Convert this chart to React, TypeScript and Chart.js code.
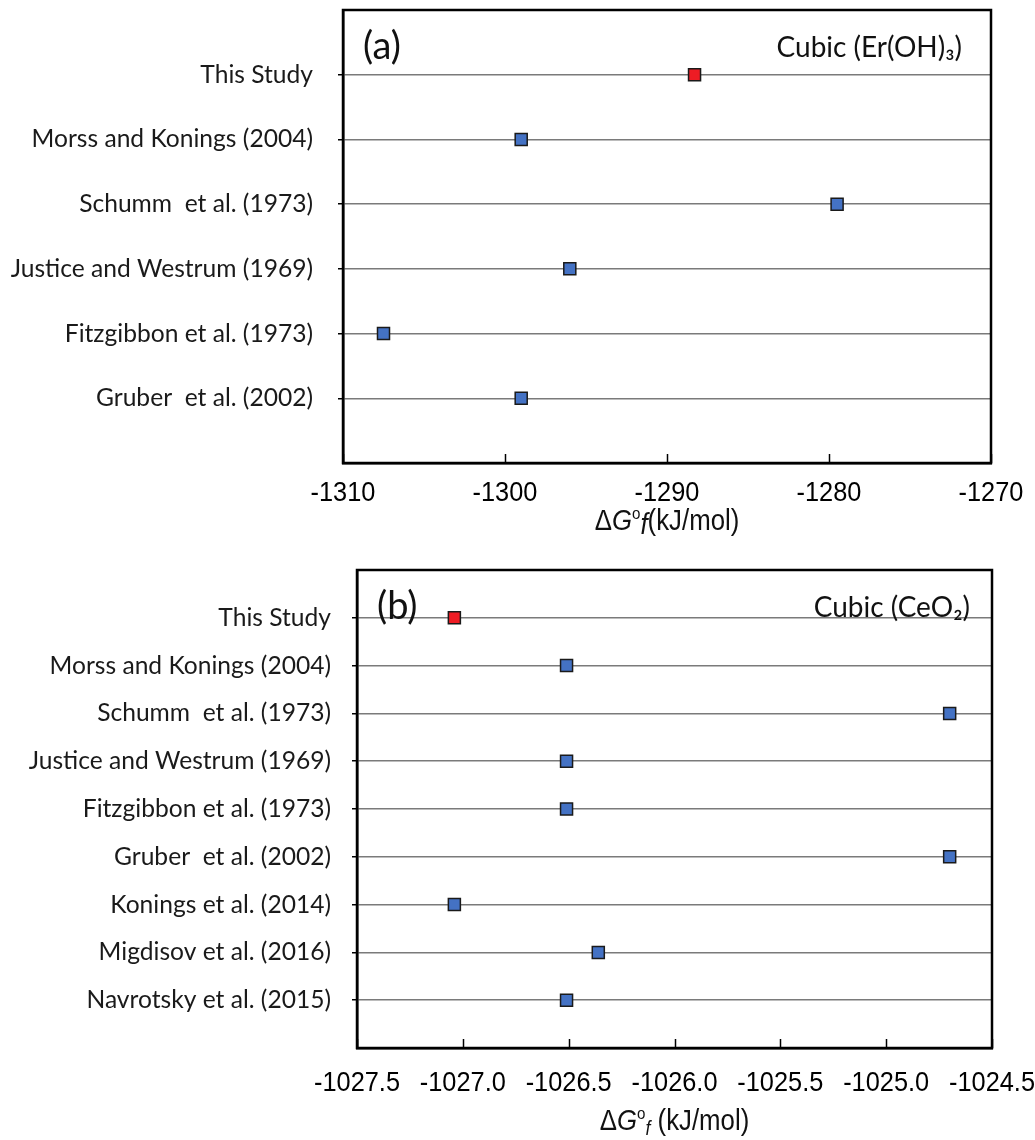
import React, { useEffect, useRef } from 'react';
import { Chart, registerables } from 'chart.js';

Chart.register(...registerables);

// ---------- Data ----------
const categoriesA = [
  'This Study',
  'Morss and Konings (2004)',
  'Schumm  et al. (1973)',
  'Justice and Westrum (1969)',
  'Fitzgibbon et al. (1973)',
  'Gruber  et al. (2002)',
];
const valuesA = [-1288.3, -1299.0, -1279.5, -1296.0, -1307.5, -1299.0];
const xTicksA = [-1310, -1300, -1290, -1280, -1270];

const categoriesB = [
  'This Study',
  'Morss and Konings (2004)',
  'Schumm  et al. (1973)',
  'Justice and Westrum (1969)',
  'Fitzgibbon et al. (1973)',
  'Gruber  et al. (2002)',
  'Konings et al. (2014)',
  'Migdisov et al. (2016)',
  'Navrotsky et al. (2015)',
];
const valuesB = [-1027.04, -1026.51, -1024.7, -1026.51, -1026.51, -1024.7, -1027.04, -1026.36, -1026.51];
const xTicksB = [-1027.5, -1027.0, -1026.5, -1026.0, -1025.5, -1025.0, -1024.5];

const LABEL_FONT = 'Lato, "Open Sans", sans-serif';
const NARROW_FONT = '"Liberation Sans", Arial, sans-serif';
const NARROW_SCALE = 0.89;
const RED = '#ee1c24';
const BLUE = '#4472c4';

type PanelProps = {
  categories: string[];
  values: number[];
  xTicks: number[];
  decimals: number;
  tag: string;
  compound: string;
  compoundRight: number;
  top: number;
  height: number;
  yWidth: number;
  padTop: number;
  padRight: number;
  xHeight: number;
  tickLabelY: number;
  yPad: number;
  titleOffset: number;
  subF: boolean;
  spaceBeforeUnit: boolean;
};

// draws horizontally condensed text (emulates a narrow face); returns drawn width
function drawNarrow(ctx: CanvasRenderingContext2D, text: string, x: number, y: number, font: string, align: 'left' | 'center') {
  ctx.save();
  ctx.font = font;
  const w = ctx.measureText(text).width * NARROW_SCALE;
  const left = align === 'center' ? x - w / 2 : x;
  ctx.translate(left, y);
  ctx.scale(NARROW_SCALE, 1);
  ctx.textAlign = 'left';
  ctx.fillText(text, 0, 0);
  ctx.restore();
  return w;
}

function Panel(p: PanelProps) {
  const ref = useRef<HTMLCanvasElement | null>(null);
  useEffect(() => {
    if (!ref.current) return;
    const n = p.categories.length;
    const decorPlugin = {
      id: 'decor',
      afterDraw(chart: any) {
        const ctx = chart.ctx as CanvasRenderingContext2D;
        const a = chart.chartArea;
        const xs = chart.scales.x;
        ctx.save();
        // inward x ticks + tick labels
        ctx.strokeStyle = '#000';
        ctx.lineWidth = 1.5;
        ctx.fillStyle = '#000';
        ctx.textBaseline = 'middle';
        for (const t of xs.ticks) {
          const px = xs.getPixelForValue(t.value);
          const sx = Math.round(px) + 0.5;
          ctx.beginPath();
          ctx.moveTo(sx, a.bottom);
          ctx.lineTo(sx, a.bottom - 9);
          ctx.stroke();
          drawNarrow(ctx, Number(t.value).toFixed(p.decimals), px, a.bottom + p.tickLabelY, `28.5px ${NARROW_FONT}`, 'center');
        }
        // frame
        ctx.lineWidth = 2.5;
        ctx.strokeStyle = '#000';
        ctx.strokeRect(a.left, a.top, a.right - a.left, a.bottom - a.top);
        // panel tag
        ctx.fillStyle = '#111';
        ctx.textBaseline = 'alphabetic';
        ctx.textAlign = 'left';
        ctx.font = `38px ${LABEL_FONT}`;
        ctx.fillText(p.tag, a.left + 20, a.top + 49);
        ctx.textAlign = 'right';
        ctx.font = `28px ${LABEL_FONT}`;
        ctx.fillText(p.compound, a.right - p.compoundRight, a.top + 47);
        // axis title
        const cx = (a.left + a.right) / 2;
        const by = a.bottom + p.titleOffset;
        const parts: { t: string; f: string; dy: number }[] = [
          { t: '\u0394', f: `29px ${NARROW_FONT}`, dy: 0 },
          { t: 'G', f: `italic 29px ${NARROW_FONT}`, dy: 0 },
          { t: 'o', f: `17px ${NARROW_FONT}`, dy: -11 },
          p.subF
            ? { t: 'f', f: `italic 20px ${NARROW_FONT}`, dy: 5 }
            : { t: 'f', f: `italic 29px ${NARROW_FONT}`, dy: 4 },
          { t: (p.spaceBeforeUnit ? ' ' : '') + '(kJ/mol)', f: `29px ${NARROW_FONT}`, dy: 0 },
        ];
        let total = 0;
        for (const q of parts) {
          ctx.font = q.f;
          total += ctx.measureText(q.t).width * NARROW_SCALE;
        }
        let x = cx - total / 2;
        for (const q of parts) {
          x += drawNarrow(ctx, q.t, x, by + q.dy, q.f, 'left');
        }
        ctx.restore();
      },
    };

    const chart = new Chart(ref.current, {
      type: 'scatter',
      data: {
        datasets: [
          {
            data: p.values.map((v, i) => ({ x: v, y: i + 1 })),
            pointStyle: 'rect',
            pointRadius: 8.5,
            pointHoverRadius: 8.5,
            backgroundColor: p.values.map((_, i) => (i === 0 ? RED : BLUE)),
            borderColor: '#1a1a1a',
            borderWidth: 1.5,
            showLine: false,
          },
        ],
      },
      options: {
        animation: false,
        responsive: false,
        events: [],
        layout: { padding: { top: p.padTop, right: p.padRight, left: 0, bottom: 0 } },
        plugins: { legend: { display: false }, tooltip: { enabled: false } },
        scales: {
          x: {
            type: 'linear',
            min: p.xTicks[0],
            max: p.xTicks[p.xTicks.length - 1],
            afterBuildTicks: (s: any) => {
              s.ticks = p.xTicks.map((v) => ({ value: v }));
            },
            afterFit: (s: any) => {
              s.height = p.xHeight;
              s.paddingLeft = 0;
              s.paddingRight = 0;
              s.paddingTop = 0;
              s.paddingBottom = 0;
            },
            ticks: { display: false },
            grid: { display: false, drawTicks: false },
            border: { display: true, color: '#000', width: 2.5 },
          },
          y: {
            type: 'linear',
            min: 0,
            max: n + 1,
            reverse: true,
            afterBuildTicks: (s: any) => {
              s.ticks = Array.from({ length: n + 2 }, (_, i) => ({ value: i }));
            },
            afterFit: (s: any) => {
              s.width = p.yWidth;
              s.paddingLeft = 0;
              s.paddingRight = 0;
              s.paddingTop = 0;
              s.paddingBottom = 0;
            },
            ticks: {
              autoSkip: false,
              color: '#1a1a1a',
              padding: p.yPad,
              font: { family: LABEL_FONT, size: 24.6 },
              callback: (v: any) => p.categories[Number(v) - 1] ?? '',
            },
            grid: {
              color: '#7a7a7a',
              lineWidth: 1.5,
              tickLength: 5,
              tickWidth: 1.5,
              tickColor: (c: any) =>
                c.tick && (c.tick.value === 0 || c.tick.value === n + 1) ? 'rgba(0,0,0,0)' : '#000',
            },
            border: { display: true, color: '#000', width: 2.5 },
          },
        },
      },
      plugins: [decorPlugin],
    } as any);
    return () => chart.destroy();
  }, []);
  return (
    <canvas
      ref={ref}
      width={1035}
      height={p.height}
      style={{ position: 'absolute', left: 0, top: p.top, width: 1035, height: p.height, display: 'block' }}
    />
  );
}

export default function App() {
  return (
    <div style={{ position: 'absolute', left: 0, top: 0, width: 1035, height: 1140, background: '#fff' }}>
      <Panel
        categories={categoriesA}
        values={valuesA}
        xTicks={xTicksA}
        decimals={0}
        tag="(a)"
        compound={'Cubic (Er(OH)\u2083)'}
        compoundRight={29}
        top={0}
        height={545}
        yWidth={343}
        padTop={8}
        padRight={44}
        xHeight={82}
        tickLabelY={30}
        yPad={25}
        titleOffset={67}
        subF={false}
        spaceBeforeUnit={false}
      />
      <Panel
        categories={categoriesB}
        values={valuesB}
        xTicks={xTicksB}
        decimals={1}
        tag="(b)"
        compound={'Cubic (CeO\u2082)'}
        compoundRight={22}
        top={545}
        height={595}
        yWidth={357}
        padTop={25}
        padRight={43}
        xHeight={92}
        tickLabelY={35}
        yPad={21}
        titleOffset={82}
        subF={true}
        spaceBeforeUnit={true}
      />
    </div>
  );
}
